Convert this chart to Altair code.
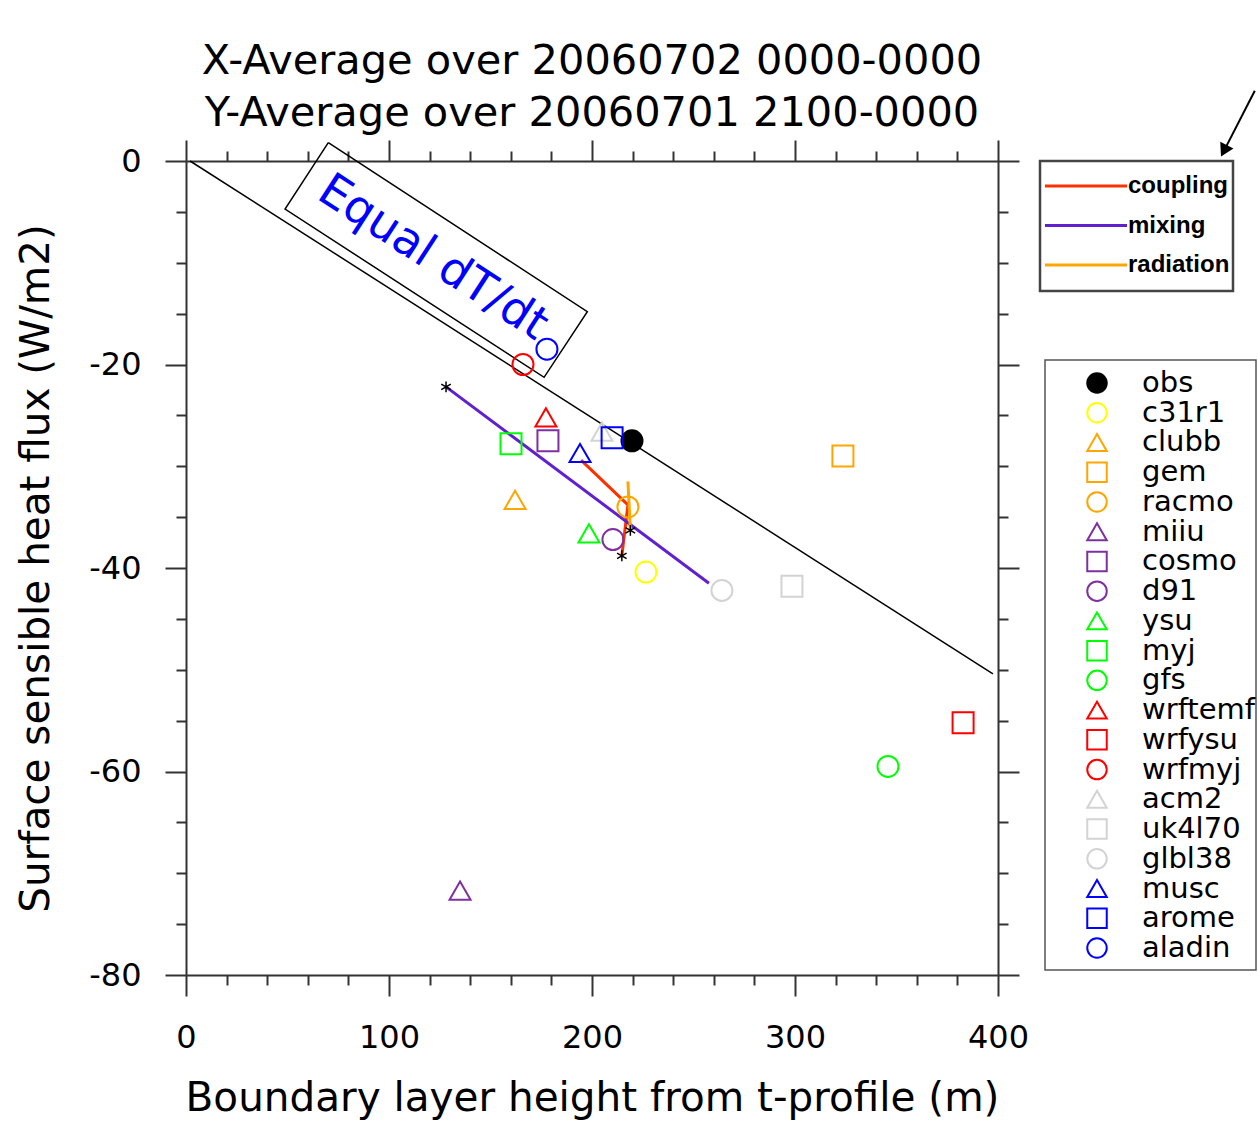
import altair as alt
import pandas as pd

# ---------------- data ----------------
models = ["obs", "c31r1", "clubb", "gem", "racmo", "miiu", "cosmo", "d91", "ysu", "myj",
          "gfs", "wrftemf", "wrfysu", "wrfmyj", "acm2", "uk4l70", "glbl38", "musc", "arome", "aladin"]
model_x = [219.7, 226.6, 162.1, 323.6, 217.7, 135.0, 178.3, 210.3, 198.5, 160.1,
           345.8, 177.3, 382.8, 166.0, 204.9, 298.5, 264.0, 194.1, 209.9, 177.8]
model_y = [-27.5, -40.4, -33.3, -29.0, -34.0, -71.7, -27.5, -37.2, -36.6, -27.8,
           -59.5, -25.2, -55.2, -20.0, -26.6, -41.8, -42.2, -28.7, -27.2, -18.5]

procs = ["coupling", "mixing", "radiation"]
coupling_x = [194.6, 217.7, 214.7]
coupling_y = [-29.4, -33.8, -38.8]
mixing_x = [128.1, 257.6]
mixing_y = [-22.2, -41.5]
radiation_x = [217.7, 218.9]
radiation_y = [-31.5, -36.3]

star_x = [128.1, 214.7, 218.9]
star_y = [-22.2, -38.8, -36.3]

equal_x = [2.0, 397.5]
equal_y = [0.0, -50.4]

box_x = [70.1, 197.7, 176.4, 48.8, 70.1]
box_y = [1.80, -14.81, -21.26, -4.72, 1.80]
label_text = ["Equal dT/dt"]
label_x = [121.7]
label_y = [-9.5]

arrow_x = [526.5, 510.3]
arrow_y = [6.9, 0.6]
arrowhead_x = [511.3]
arrowhead_y = [1.0]

title_lines = ["X-Average over 20060702 0000-0000", "Y-Average over 20060701 2100-0000"]
x_title = "Boundary layer height from t-profile (m)"
y_title = "Surface sensible heat flux (W/m2)"

# ---------------- styles ----------------
ORANGE, PURPLE, GREEN, RED, GRAY, BLUE = "#FFA500", "#7F2FA0", "#00FF00", "#FF0000", "#D3D3D3", "#0000FF"
model_colors = ["black", "#FFFF00", ORANGE, ORANGE, ORANGE, PURPLE, PURPLE, PURPLE, GREEN, GREEN,
                GREEN, RED, RED, RED, GRAY, GRAY, GRAY, BLUE, BLUE, BLUE]
model_shapes = ["circle", "circle", "triangle-up", "square", "circle", "triangle-up", "square", "circle",
                "triangle-up", "square", "circle", "triangle-up", "square", "circle", "triangle-up",
                "square", "circle", "triangle-up", "square", "circle"]
model_fills = ["black"] + ["transparent"] * 19
proc_colors = ["#FF3000", "#6020D0", "#FFA500"]
FONT = "DejaVu Sans"
AX = "#333333"

# ---------------- tables ----------------
pts = pd.DataFrame({"model": models, "x": model_x, "y": model_y})
lines = pd.concat([
    pd.DataFrame({"proc": "coupling", "x": coupling_x, "y": coupling_y, "i": range(len(coupling_x))}),
    pd.DataFrame({"proc": "mixing", "x": mixing_x, "y": mixing_y, "i": range(len(mixing_x))}),
    pd.DataFrame({"proc": "radiation", "x": radiation_x, "y": radiation_y, "i": range(len(radiation_x))}),
])
stars = pd.DataFrame({"x": star_x, "y": star_y})
eq = pd.DataFrame({"x": equal_x, "y": equal_y})
box = pd.DataFrame({"x": box_x, "y": box_y, "i": range(len(box_x))})
lab = pd.DataFrame({"x": label_x, "y": label_y, "t": label_text})
arrow = pd.DataFrame({"x": arrow_x, "y": arrow_y})
ahead = pd.DataFrame({"x": arrowhead_x, "y": arrowhead_y})
proc_df = pd.DataFrame({"proc": procs})
one = pd.DataFrame({"a": [0]})

xscale = alt.Scale(domain=[0, 400], nice=False, zero=False, padding=0)
yscale = alt.Scale(domain=[-80, 0], nice=False, zero=False, padding=0)
shape_scale = alt.Scale(domain=models, range=model_shapes)
stroke_scale = alt.Scale(domain=models, range=model_colors)
fill_scale = alt.Scale(domain=models, range=model_fills)
proc_scale = alt.Scale(domain=procs, range=proc_colors)

common_axis = dict(domainColor=AX, domainWidth=2, tickColor=AX, tickWidth=2, grid=False, offset=0,
                   labelFont=FONT, labelFontSize=32, labelColor="black", labelFlush=False,
                   labelOverlap=False, titleFont=FONT, titleFontSize=40.5, titleFontWeight="normal",
                   titleColor="black")

xaxis = alt.Axis(values=list(range(0, 401, 20)),
                 labelExpr="datum.value % 100 === 0 ? toString(datum.value) : ''",
                 tickSize={"condition": {"test": "datum.value % 100 === 0", "value": 21}, "value": 10},
                 labelPadding=26, titlePadding=25, title=x_title, orient="bottom", **common_axis)
yaxis = alt.Axis(values=list(range(-80, 1, 5)),
                 labelExpr="datum.value % 20 === 0 ? toString(datum.value) : ''",
                 tickSize={"condition": {"test": "datum.value % 20 === 0", "value": 21}, "value": 10},
                 labelPadding=24, titlePadding=31, title=y_title, orient="left", **common_axis)
xaxis_top = alt.Axis(values=list(range(0, 401, 20)), labels=False, title=None, orient="top", offset=0,
                     tickSize={"condition": {"test": "datum.value % 100 === 0", "value": 21}, "value": 10},
                     domainColor=AX, domainWidth=2, tickColor=AX, tickWidth=2, grid=False)
yaxis_right = alt.Axis(values=list(range(-80, 1, 5)), labels=False, title=None, orient="right", offset=0,
                       tickSize={"condition": {"test": "datum.value % 20 === 0", "value": 21}, "value": 10},
                       domainColor=AX, domainWidth=2, tickColor=AX, tickWidth=2, grid=False)

X = alt.X("x:Q", scale=xscale)
Y = alt.Y("y:Q", scale=yscale)

eq_layer = alt.Chart(eq).mark_line(color="black", strokeWidth=1.5, clip=False).encode(
    x=alt.X("x:Q", scale=xscale, axis=xaxis), y=alt.Y("y:Q", scale=yscale, axis=yaxis))
box_layer = alt.Chart(box).mark_line(color="black", strokeWidth=1.5, clip=False).encode(
    x=X, y=Y, order="i:Q")
lab_layer = alt.Chart(lab).mark_text(color="#0000FF", font=FONT, fontSize=46, angle=33,
                                     align="center", baseline="middle", clip=False).encode(
    x=X, y=Y, text="t:N")
line_layer = alt.Chart(lines).mark_line(strokeWidth=3).encode(
    x=X, y=Y, order="i:Q", color=alt.Color("proc:N", scale=proc_scale, legend=None))
star_layer = alt.Chart(stars).mark_point(
    shape="M0,-1V1M-0.87,-0.5L0.87,0.5M-0.87,0.5L0.87,-0.5", size=120, color="black",
    strokeWidth=1.5, opacity=1).encode(x=X, y=Y)
pt_layer = alt.Chart(pts).mark_point(size=441, strokeWidth=2, opacity=1).encode(
    x=X, y=Y,
    shape=alt.Shape("model:N", scale=shape_scale, legend=None),
    stroke=alt.Stroke("model:N", scale=stroke_scale, legend=None),
    fill=alt.Fill("model:N", scale=fill_scale, legend=None))
arrow_layer = alt.Chart(arrow).mark_line(color="black", strokeWidth=2, clip=False).encode(x=X, y=Y)
ahead_layer = alt.Chart(ahead).mark_point(shape="triangle-up", size=220, angle=207, filled=True,
                                          color="black", opacity=1, clip=False).encode(x=X, y=Y)

plot = alt.layer(eq_layer, box_layer, lab_layer, line_layer, star_layer, pt_layer,
                 arrow_layer, ahead_layer)
frame = alt.Chart(eq).mark_line(opacity=0).encode(
    x=alt.X("x:Q", scale=xscale, axis=xaxis_top), y=alt.Y("y:Q", scale=yscale, axis=yaxis_right))
combined = alt.layer(plot, frame).resolve_axis(x="independent", y="independent")

# line legend
lbox = alt.Chart(one).mark_rect(fill="transparent", stroke="#444444", strokeWidth=2.5).encode(
    x=alt.value(854), x2=alt.value(1047), y=alt.value(0), y2=alt.value(130))
LY = alt.Y("proc:N", scale=alt.Scale(type="point", domain=procs, range=[25, 104], padding=0), axis=None)
lrule = alt.Chart(proc_df).mark_rule(strokeWidth=3).encode(
    x=alt.value(859), x2=alt.value(941), y=LY,
    color=alt.Color("proc:N", scale=proc_scale, legend=None))
ltext = alt.Chart(proc_df).mark_text(align="left", baseline="middle", font="Liberation Sans",
                                     fontWeight="bold", fontSize=24, color="black").encode(
    x=alt.value(942), y=LY, text="proc:N")
line_legend = alt.layer(lbox, lrule, ltext)

# symbol legend
sbox = alt.Chart(one).mark_rect(fill="transparent", stroke="#555555", strokeWidth=1.5).encode(
    x=alt.value(859), x2=alt.value(1070), y=alt.value(199), y2=alt.value(809))
SY = alt.Y("model:N", scale=alt.Scale(type="point", domain=models, range=[222, 787], padding=0), axis=None)
spts = alt.Chart(pts).mark_point(size=380, strokeWidth=2, opacity=1).encode(
    x=alt.value(911), y=SY,
    shape=alt.Shape("model:N", scale=shape_scale, legend=None),
    stroke=alt.Stroke("model:N", scale=stroke_scale, legend=None),
    fill=alt.Fill("model:N", scale=fill_scale, legend=None))
stext = alt.Chart(pts).mark_text(align="left", baseline="middle", font=FONT, fontSize=29,
                                 color="black").encode(x=alt.value(956), y=SY, text="model:N")
sym_legend = alt.layer(sbox, spts, stext)

chart = alt.layer(combined, line_legend, sym_legend).resolve_scale(y="independent").properties(
    width=812, height=814,
    title=alt.Title(title_lines, fontSize=41.5, font=FONT, fontWeight="normal", color="black",
                    lineHeight=52, offset=-48, anchor="middle", frame="group"),
    autosize=alt.AutoSizeParams(type="none"),
    padding={"left": 186, "top": 161, "right": 260, "bottom": 150},
).configure_view(stroke=None).configure(background="white")

chart.save("out.html", embed_options={"renderer": "svg", "actions": False})
